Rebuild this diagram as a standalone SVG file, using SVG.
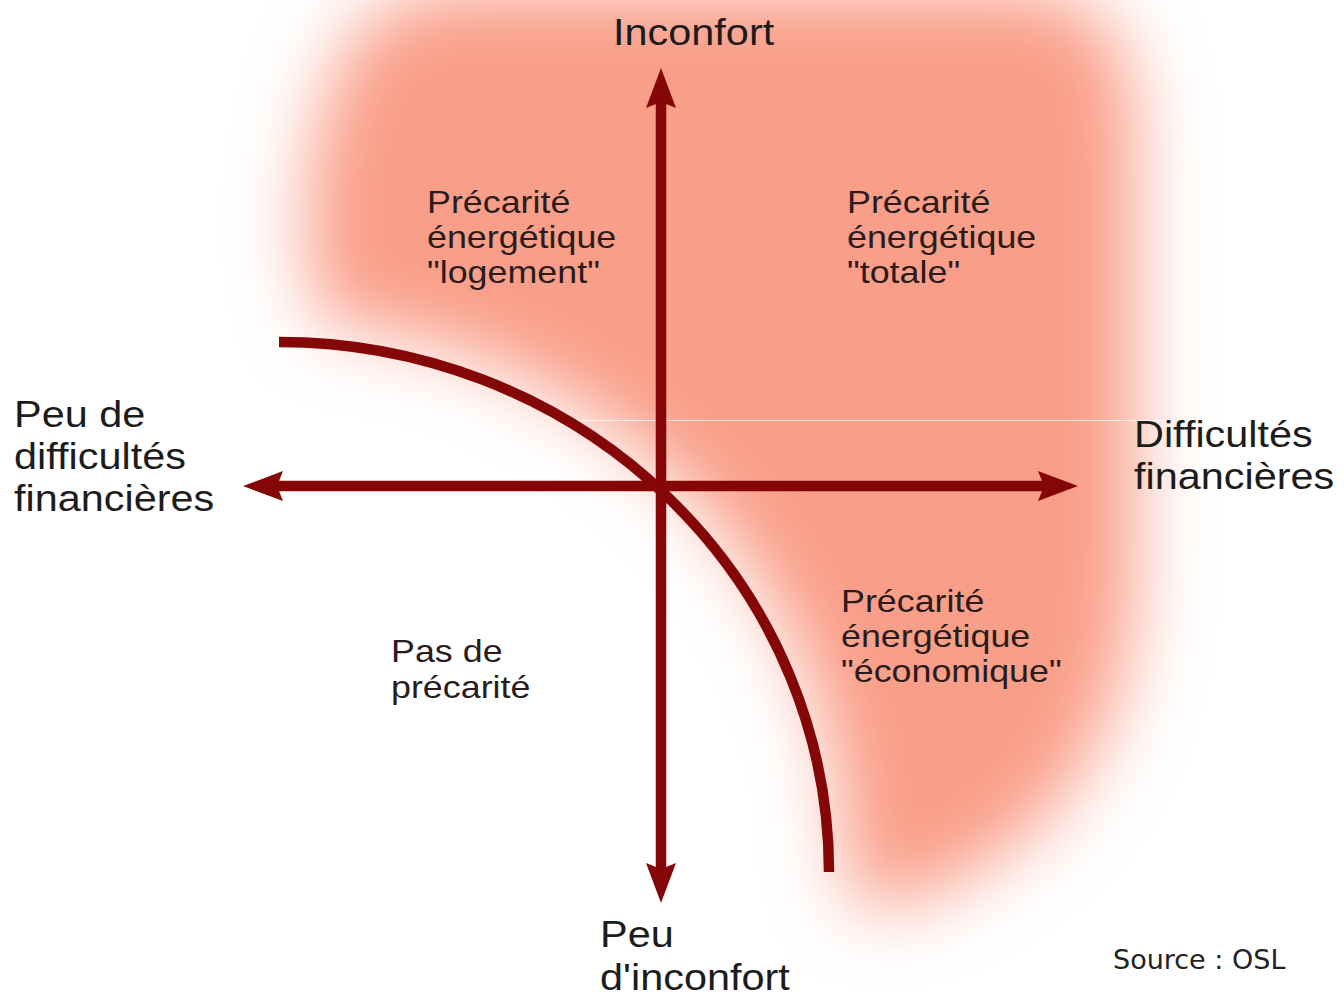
<svg xmlns="http://www.w3.org/2000/svg" width="1344" height="995" viewBox="0 0 1344 995">
  <style>
    .ax { fill: none; stroke: #850606; stroke-width: 10.5; }
    .big { font-family: "Liberation Sans", Arial, sans-serif; font-size: 37px; fill: #1c1c1c; }
    .quad { font-family: "Liberation Sans", Arial, sans-serif; font-size: 32px; fill: #2a1c1c; }
    .src { font-family: "DejaVu Sans", Verdana, sans-serif; font-size: 27px; fill: #222222; }
  </style>
  <defs>
    <filter id="blur" x="-30%" y="-30%" width="160%" height="160%">
      <feGaussianBlur stdDeviation="36"/>
    </filter>
    <marker id="head" viewBox="0 0 40 30" refX="8" refY="15" markerWidth="40" markerHeight="30" markerUnits="userSpaceOnUse" orient="auto-start-reverse">
      <path d="M0,0 L40,15 L0,30 L6,15 Z" fill="#850606"/>
    </marker>
  </defs>
  <rect x="0" y="0" width="1344" height="995" fill="#ffffff"/>

  <g id="zone">
    <path filter="url(#blur)" fill="#f99e88" d="M860,905 L845,872 A565 550 0 0 0 330,324 C300,290 300,170 330,90 C350,20 400,-10 470,-10 L1010,-10 C1110,-10 1135,50 1135,150 L1135,560 C1135,710 1075,810 990,860 C940,895 900,910 860,905 Z"/>
    <line x1="560" y1="420.5" x2="1344" y2="420.5" stroke="#ffffff" stroke-opacity="0.7" stroke-width="1"/>
  </g>

  <g id="connectors">
    <path class="ax" d="M661,871 L661,100" marker-start="url(#head)" marker-end="url(#head)"/>
    <path class="ax" d="M275,486 L1046,486" marker-start="url(#head)" marker-end="url(#head)"/>
    <path class="ax" d="M279,342 A550 530 0 0 1 829,872"/>
  </g>

  <g id="label-inconfort" transform="translate(613,45) scale(1.12,1)">
    <text class="big" x="0" y="0">Inconfort</text>
  </g>
  <g id="label-peu-difficultes" transform="translate(14,427) scale(1.12,1)">
    <text class="big" x="0" y="0">Peu de<tspan x="0" dy="42">difficultés</tspan><tspan x="0" dy="42">financières</tspan></text>
  </g>
  <g id="label-difficultes" transform="translate(1134,447) scale(1.12,1)">
    <text class="big" x="0" y="0">Difficultés<tspan x="0" dy="42">financières</tspan></text>
  </g>
  <g id="label-peu-inconfort" transform="translate(600,947) scale(1.12,1)">
    <text class="big" x="0" y="0">Peu<tspan x="0" dy="43">d'inconfort</tspan></text>
  </g>

  <g id="q-logement" transform="translate(427,213) scale(1.12,1)">
    <text class="quad" x="0" y="0">Précarité<tspan x="0" dy="35">énergétique</tspan><tspan x="0" dy="35">"logement"</tspan></text>
  </g>
  <g id="q-totale" transform="translate(847,213) scale(1.12,1)">
    <text class="quad" x="0" y="0">Précarité<tspan x="0" dy="35">énergétique</tspan><tspan x="0" dy="35">"totale"</tspan></text>
  </g>
  <g id="q-economique" transform="translate(841,612) scale(1.12,1)">
    <text class="quad" x="0" y="0">Précarité<tspan x="0" dy="35">énergétique</tspan><tspan x="0" dy="35">"économique"</tspan></text>
  </g>
  <g id="q-pas" transform="translate(391,662) scale(1.12,1)">
    <text class="quad" x="0" y="0">Pas de<tspan x="0" dy="36">précarité</tspan></text>
  </g>

  <g id="source">
    <text class="src" x="1113" y="969">Source : OSL</text>
  </g>
</svg>
